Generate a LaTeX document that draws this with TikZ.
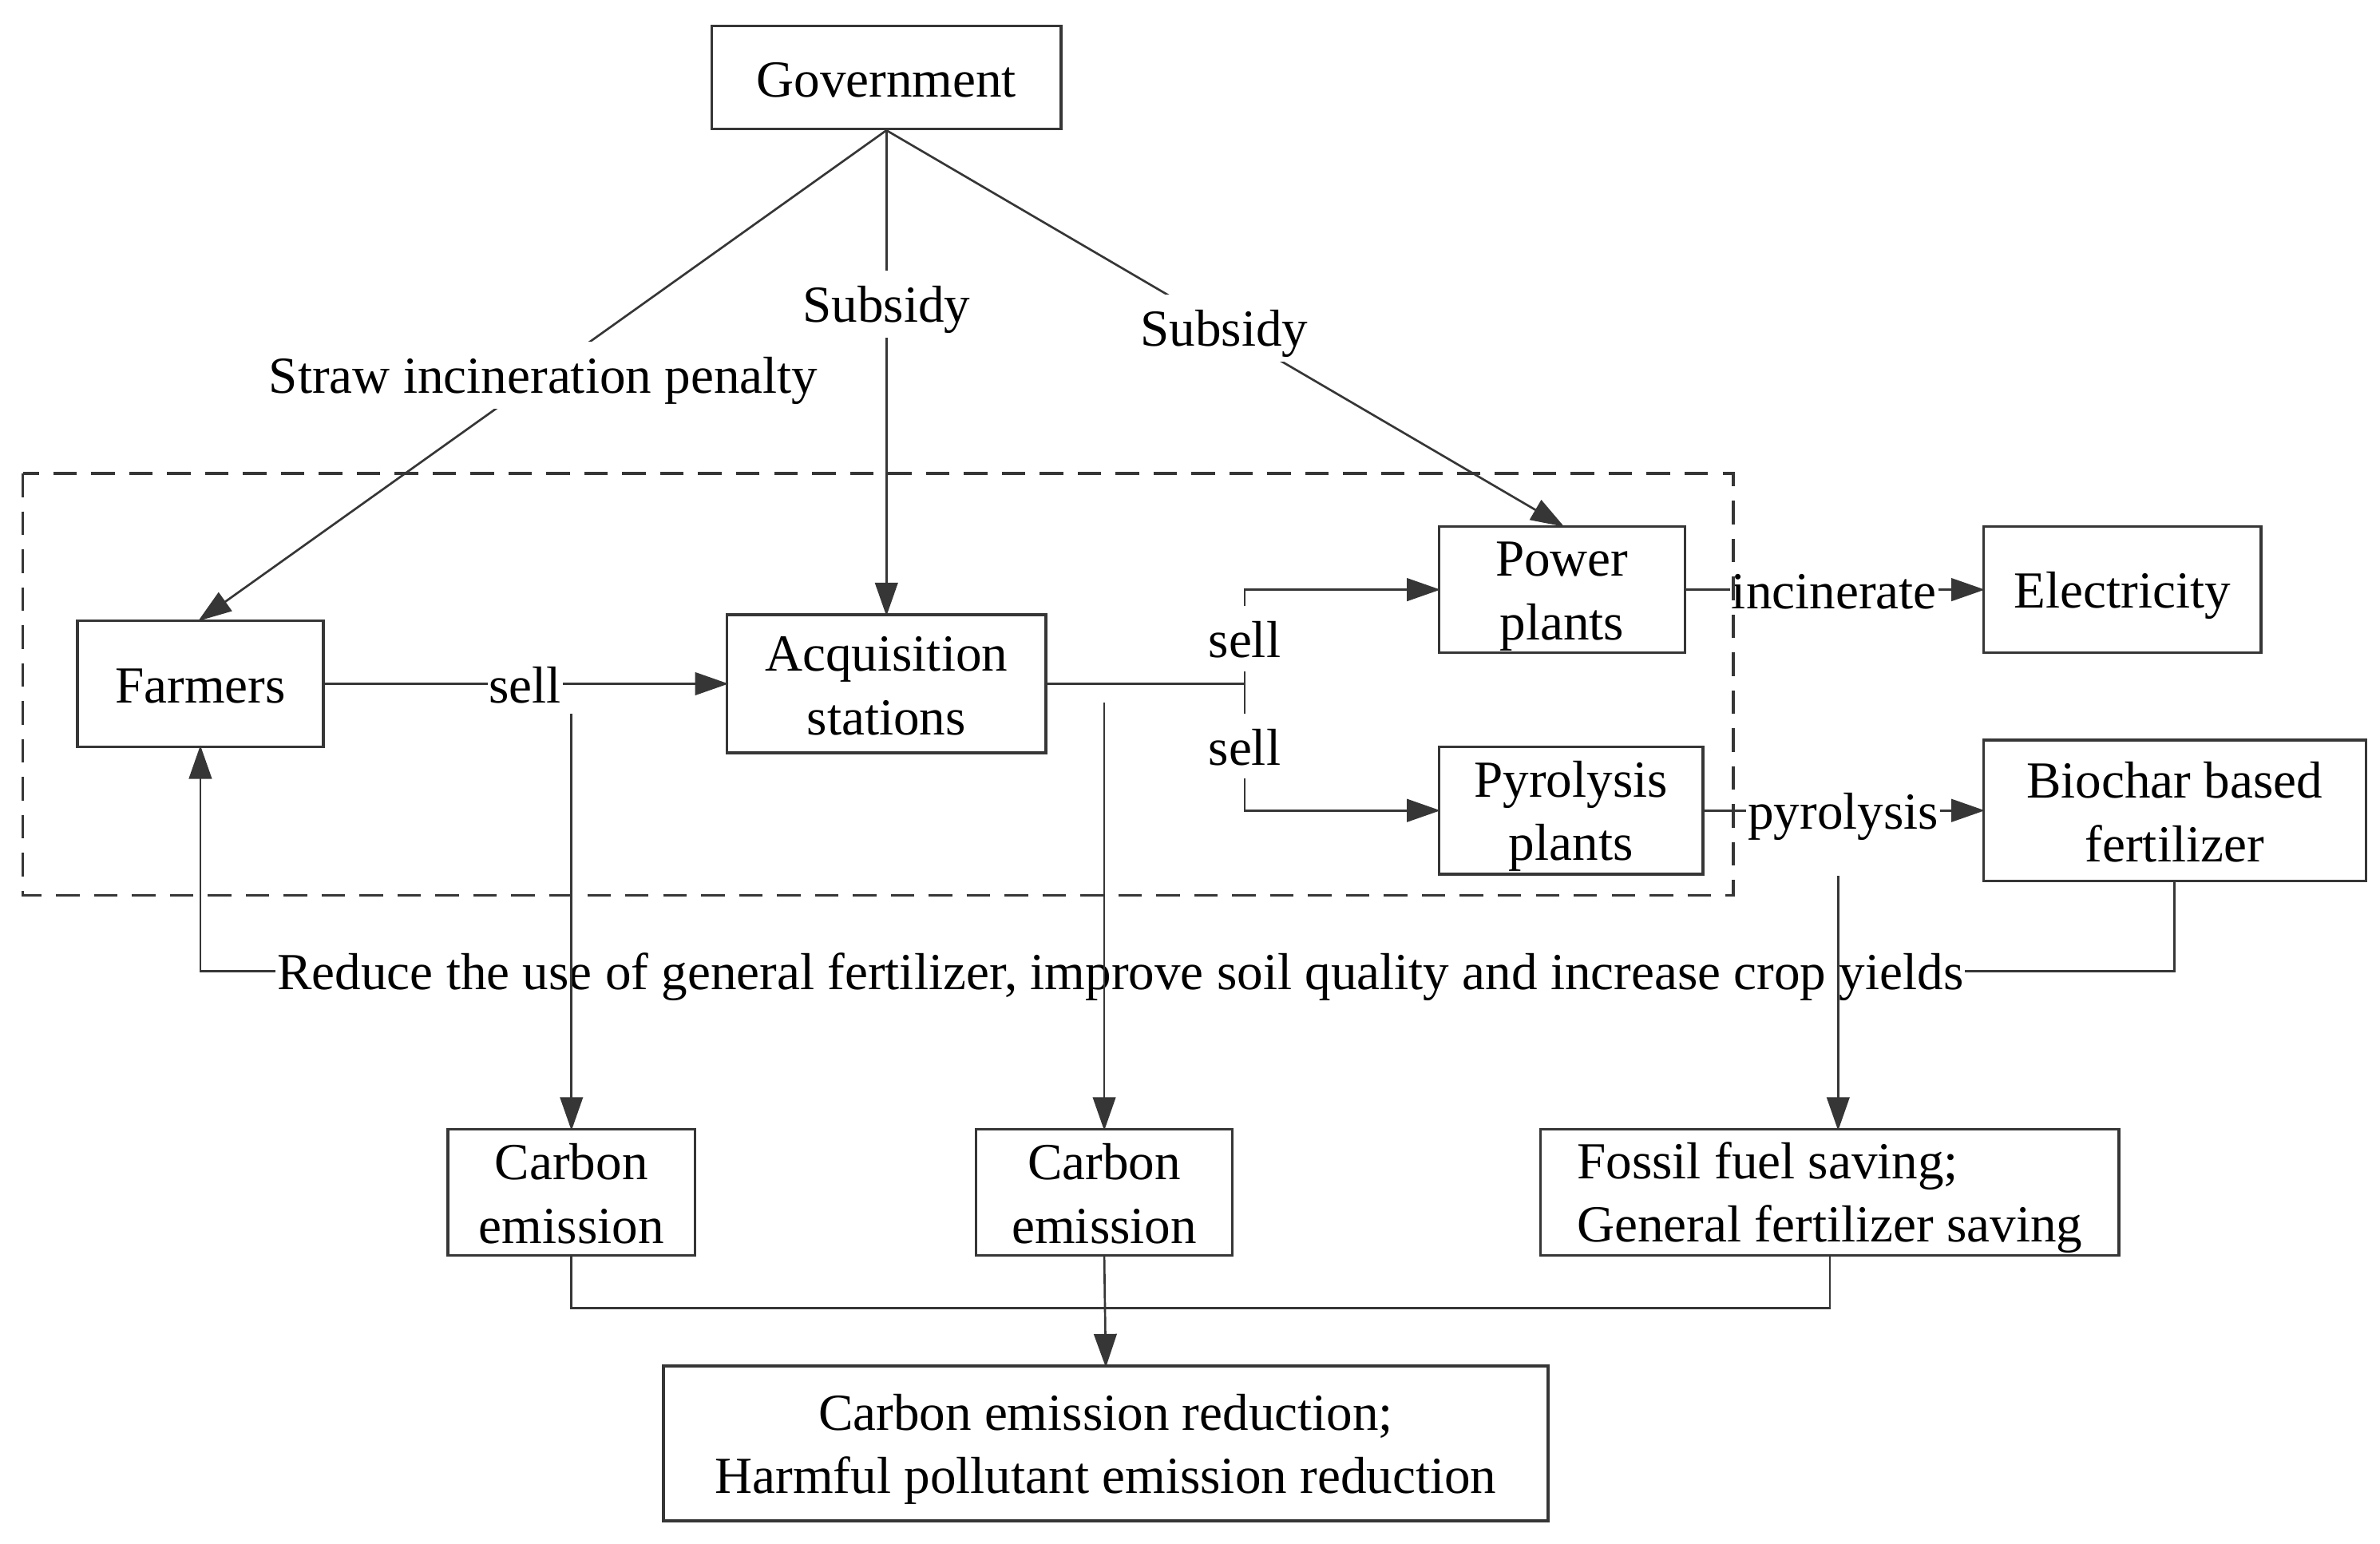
\documentclass[tikz,border=0pt]{standalone}
\usepackage{fontspec}
\setmainfont{Liberation Serif}
\usetikzlibrary{arrows.meta,positioning}

\definecolor{ink}{HTML}{363636}

\begin{document}
\begin{tikzpicture}[x=0.02cm, y=-0.02cm, font=\fontsize{19.5}{23.8}\selectfont]
\tikzset{
    %Define standard arrow tip
    >={Triangle[length=0.44cm,width=0.3cm]},
    % same baseline in every text
    strutted/.style={
           execute at begin node={\rule[-3.5pt]{0pt}{21.4pt}},
           execute at end node={\rule[-3.5pt]{0pt}{3.5pt}}},
    twolines/.style={
           execute at begin node={\rule{0pt}{41.7pt}}},
    %Define style for boxes
    actor/.style={
           rectangle, strutted,
           draw=ink, line width=1pt,
           minimum width=3.24cm,
           minimum height=1.66cm,
           inner xsep=2pt, inner ysep=0pt,
           align=center},
    % Define line styles
    link/.style={
           draw=ink,
           line width=0.8pt},
    pil/.style={
           link, ->,
           shorten >=-1pt},
    tag/.style={fill=white, strutted, inner xsep=0.6pt, inner ysep=1.5pt},
    frame/.style={draw=ink, line width=1pt, dash pattern=on 0.31cm off 0.19cm}
}
 \useasboundingbox (0,0) rectangle (1568,1017);
 %nodes
 \node[actor, minimum width=4.6cm, minimum height=1.36cm] (gov) at (584,51) {Government};
 \node[actor] (farm) at (132,450.5) {Farmers};
 \node[actor, twolines, minimum width=4.2cm, minimum height=1.82cm] (acq) at (584,450.5) {Acquisition\\stations};
 \node[actor, twolines] (power) at (1029,388.5) {Power\\plants};
 \node[actor, minimum width=3.66cm, right=3.9cm of power] (elec) {Electricity};
 \node[actor, twolines, minimum width=3.48cm, minimum height=1.68cm] (pyro) at (1035,534) {Pyrolysis\\plants};
 \node[actor, twolines, minimum width=5.04cm, minimum height=1.86cm, right=3.66cm of pyro] (bio) {Biochar based\\fertilizer};
 \node[actor, twolines, minimum width=3.26cm] (ce1) at (376.5,785.5) {Carbon\\emission};
 \node[actor, twolines, minimum width=3.38cm] (ce2) at (727.5,785.5) {Carbon\\emission};
 \node[actor, twolines, minimum width=7.62cm, align=left] (fossil) at (1205.5,785.5) {Fossil fuel saving;\\General fertilizer saving};
 \node[actor, twolines, minimum width=11.66cm, minimum height=2.04cm] (bot) at (728.5,951) {Carbon emission reduction;\\Harmful pollutant emission reduction};

 % government measures
 \draw[pil] (gov.south) -- node[tag] {Straw incineration penalty} (farm.north);
 \draw[pil] (gov.south) -- node[tag, pos=0.36] {Subsidy} (acq.north);
 \draw[pil] (gov.south) -- node[tag] {Subsidy} (power.north);

 % straw flow
 \draw[pil] (farm) -- node[tag] {sell} (acq);
 \coordinate (split) at (820,450.5);
 \draw[link] (acq.east) -- (split);
 \draw[pil] (split) |- node[tag, pos=0.24] {sell} (power.west);
 \draw[pil] (split) |- node[tag, pos=0.245] {sell} (pyro.west);
 \draw[pil] (power) -- node[tag] {incinerate} (elec);
 \draw[pil] (pyro) -- node[tag] {pyrolysis} (bio);

 % the dashed frame goes over the labels
 \draw[frame] (15,312) rectangle (1142,590);

 % back to the farmers
 \coordinate (turn) at (132,640);
 \draw[pil] (bio.south) |- node[tag, pos=0.767] {Reduce the use of general fertilizer, improve soil quality and increase crop yields} (turn) -- (farm.south);

 % effects
 \coordinate (drop1) at (376.5,470);
 \coordinate (drop2) at (727.5,463);
 \coordinate (drop3) at (1211,577);
 \draw[pil] (drop1) -- (ce1.north);
 \draw[pil] (drop2) -- (ce2.north);
 \draw[pil] (drop3) -- (drop3 |- fossil.north);
 \coordinate (merge) at (727.5,862);
 \draw[link] (ce1.south) |- (merge) -| (fossil.south);
 \draw[pil] (ce2.south) -- (bot.north);
\end{tikzpicture}
\end{document}
